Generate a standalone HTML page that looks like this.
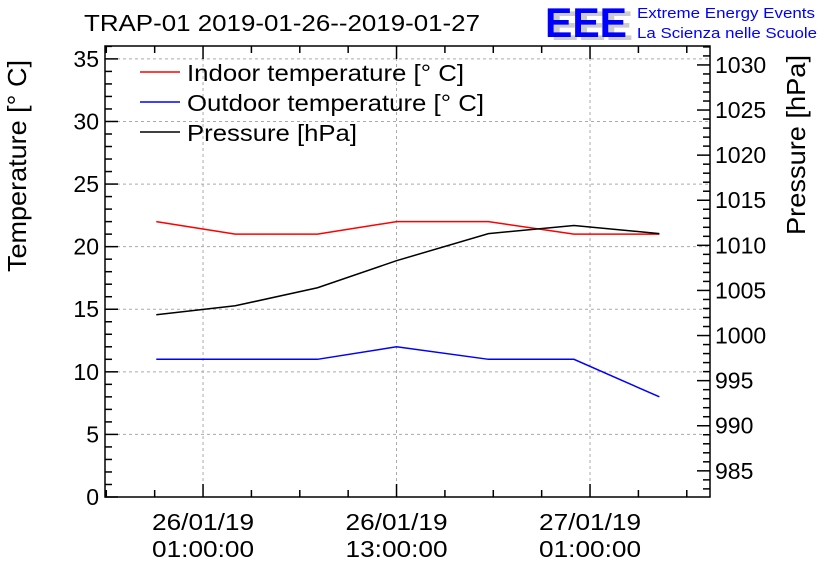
<!DOCTYPE html>
<html><head><meta charset="utf-8"><style>
body{margin:0;background:#fff}
svg{display:block;font-family:"Liberation Sans",sans-serif}
</style></head><body>
<svg id="c" width="836" height="572">
<text x="84" y="31" font-size="23" fill="#000" textLength="396" lengthAdjust="spacingAndGlyphs">TRAP-01 2019-01-26--2019-01-27</text>
<g>
<text x="551" y="40" font-size="42" fill="#ccc" font-weight="bold" textLength="82" lengthAdjust="spacingAndGlyphs">EEE</text>
<text x="545" y="37" font-size="42" fill="#00f" font-weight="bold" textLength="82" lengthAdjust="spacingAndGlyphs">EEE</text>
<text x="637" y="18" font-size="15" fill="#00f" textLength="178" lengthAdjust="spacingAndGlyphs">Extreme Energy Events</text>
<text x="637" y="38" font-size="15" fill="#00f" textLength="180" lengthAdjust="spacingAndGlyphs">La Scienza nelle Scuole</text>
</g>
<text transform="translate(26,166) rotate(-90)" text-anchor="middle" font-size="26" textLength="212" lengthAdjust="spacingAndGlyphs">Temperature [° C]</text>
<text transform="translate(805,145) rotate(-90)" text-anchor="middle" font-size="26" textLength="180" lengthAdjust="spacingAndGlyphs">Pressure [hPa]</text>
<g id="grid"></g><g id="axes"></g><g id="series"></g>
<g>
<line x1="140" y1="72" x2="180" y2="72" stroke="#f00" stroke-width="1.5"/><text x="187" y="81" font-size="23" textLength="277" lengthAdjust="spacingAndGlyphs">Indoor temperature [° C]</text>
<line x1="140" y1="102" x2="180" y2="102" stroke="#00f" stroke-width="1.5"/><text x="187" y="111" font-size="23" textLength="297" lengthAdjust="spacingAndGlyphs">Outdoor temperature [° C]</text>
<line x1="140" y1="132" x2="180" y2="132" stroke="#000" stroke-width="1.5"/><text x="187" y="141" font-size="23" textLength="170" lengthAdjust="spacingAndGlyphs">Pressure [hPa]</text>
</g>
</svg>
<script>
// hours since 2019-01-26 00:00
const times=[-1.9,3.0,8.1,13.0,18.7,24.0,29.3];
const indoor=[22,21,21,22,22,21,21];
const outdoor=[11,11,11,12,11,11,8];
const pressure=[1002.3,1003.3,1005.3,1008.3,1011.3,1012.2,1011.3];
const xTickHours=[1,13,25];
const xTickLabels=[["26/01/19","01:00:00"],["26/01/19","13:00:00"],["27/01/19","01:00:00"]];
const L=105,R=710,T=46,B=497;
const X0=-5.08,X1=32.44,Y0=0,Y1=36.03,P0=982.1,P1=1032.1;
const sx=h=>L+(h-X0)/(X1-X0)*(R-L);
const sy=v=>B-(v-Y0)/(Y1-Y0)*(B-T);
const sp=v=>B-(v-P0)/(P1-P0)*(B-T);
const NS="http://www.w3.org/2000/svg";
function mk(tag,a,parent){const e=document.createElementNS(NS,tag);for(const k in a)e.setAttribute(k,a[k]);document.getElementById(parent).appendChild(e);return e;}
for(let v=5;v<=35;v+=5){const g=mk('line',{x1:L,x2:R,y1:sy(v),y2:sy(v),stroke:'#aaa','stroke-dasharray':'3,3'},'grid');

}
xTickHours.forEach(h=>{const g=mk('line',{x1:sx(h),x2:sx(h),y1:T,y2:B,stroke:'#aaa','stroke-dasharray':'3,3'},'grid');

});
const f=mk('rect',{x:L,y:T,width:R-L,height:B-T,fill:'none',stroke:'#000','stroke-width':1.5},'axes');


for(let v=0;v<=36;v++){const maj=v%5==0;mk('line',{x1:L,x2:L+(maj?13:7),y1:sy(v),y2:sy(v),stroke:'#000','stroke-width':1.5},'axes');
if(maj){const t=mk('text',{x:L-6,y:sy(v)+8,'text-anchor':'end','font-size':23},'axes');t.textContent=v;

}}
for(let v=983;v<=1032;v++){const maj=v%5==0;mk('line',{x1:R,x2:R-(maj?13:7),y1:sp(v),y2:sp(v),stroke:'#000','stroke-width':1.5},'axes');
if(maj){const t=mk('text',{x:R+5,y:sp(v)+8,'font-size':23},'axes');t.textContent=v;

}}
for(let h=-5;h<=32;h+=3){const maj=(h-1)%12==0;
mk('line',{x1:sx(h),x2:sx(h),y1:B,y2:B-(maj?13:7),stroke:'#000','stroke-width':1.5},'axes');
mk('line',{x1:sx(h),x2:sx(h),y1:T,y2:T+(maj?13:7),stroke:'#000','stroke-width':1.5},'axes');}
xTickHours.forEach((h,i)=>{xTickLabels[i].forEach((s,j)=>{const t=mk('text',{x:sx(h),y:530+j*27,'text-anchor':'middle','font-size':23,textLength:102,lengthAdjust:'spacingAndGlyphs'},'axes');t.textContent=s;

});});
function line(vals,scale,color,name){const p=mk('polyline',{points:vals.map((v,i)=>sx(times[i])+','+scale(v)).join(' '),fill:'none',stroke:color,'stroke-width':1.5},'series');

}
line(indoor,sy,'#f00','indoor-line');
line(outdoor,sy,'#00f','outdoor-line');
line(pressure,sp,'#000','pressure-line');
</script>
</body></html>
